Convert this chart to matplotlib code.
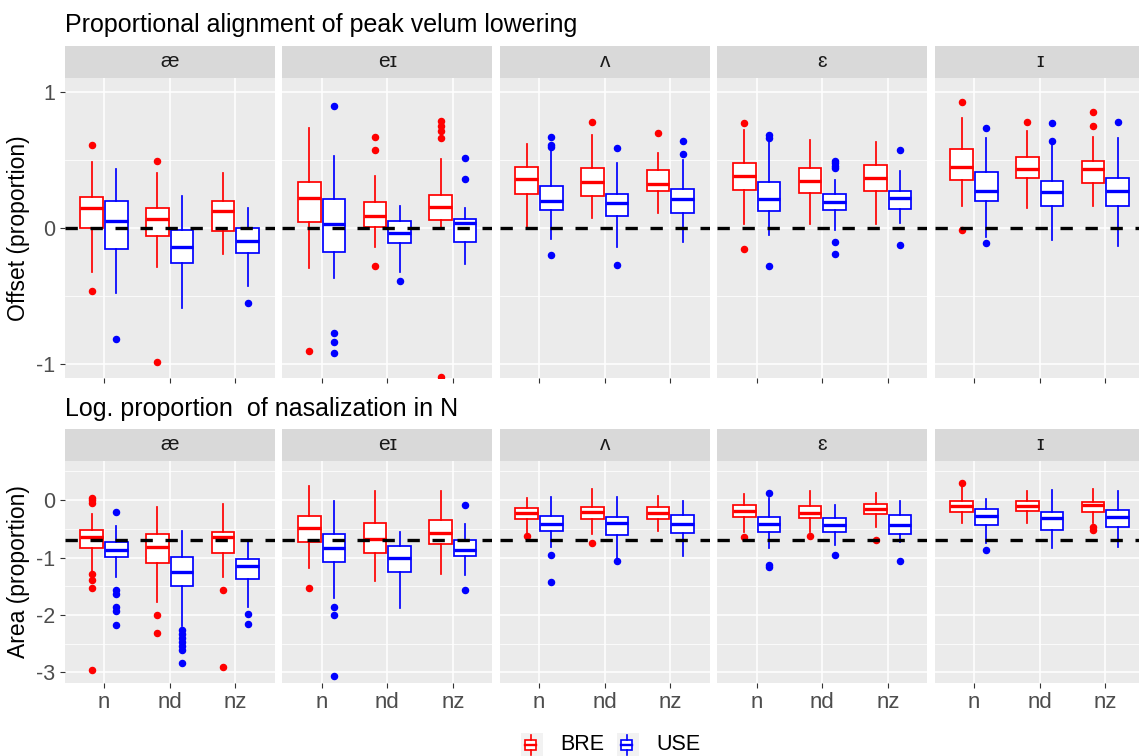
import numpy as np
import matplotlib
matplotlib.use("Agg")
import matplotlib.pyplot as plt
from matplotlib.patches import Rectangle

plt.rcParams['font.family'] = ['Liberation Sans', 'DejaVu Sans']

vowels = ["æ", "eɪ", "ʌ", "ɛ", "ɪ"]
contexts = ["n", "nd", "nz"]
varieties = ["BRE", "USE"]
colors = ["#FF0000", "#0000FF"]

# box stats per vowel -> per context: (whisker low, q1, median, q3, whisker high)
offset_bre = [
    [(-0.324, 0.0, 0.152, 0.233, 0.49), (-0.287, -0.056, 0.069, 0.147, 0.404), (-0.189, -0.017, 0.125, 0.199, 0.404)],
    [(-0.294, 0.049, 0.221, 0.341, 0.738), (-0.14, 0.01, 0.093, 0.191, 0.382), (0.0, 0.064, 0.154, 0.245, 0.507)],
    [(0.007, 0.255, 0.365, 0.449, 0.618), (0.074, 0.24, 0.338, 0.441, 0.689), (0.115, 0.272, 0.326, 0.431, 0.551)],
    [(0.034, 0.279, 0.387, 0.478, 0.721), (0.029, 0.262, 0.346, 0.441, 0.65), (0.034, 0.275, 0.37, 0.463, 0.637)],
    [(0.162, 0.353, 0.453, 0.583, 0.811), (0.147, 0.37, 0.439, 0.527, 0.718), (0.164, 0.336, 0.434, 0.495, 0.672)],
]
offset_bre_out = [
    [[0.61, -0.458], [0.498, -0.98], []],
    [[-0.90], [0.669, 0.574, -0.277], [0.792, 0.755, 0.718, 0.662, -1.096]],
    [[], [0.782], [0.701]],
    [[0.777, -0.152], [], []],
    [[0.926, -0.01], [0.782], [0.853, 0.75]],
]
offset_use = [
    [(-0.473, -0.152, 0.051, 0.199, 0.434), (-0.586, -0.252, -0.135, -0.015, 0.238), (-0.426, -0.181, -0.093, 0.0, 0.147)],
    [(-0.365, -0.174, 0.029, 0.216, 0.532), (-0.324, -0.105, -0.037, 0.056, 0.164), (-0.262, -0.10, 0.037, 0.071, 0.147)],
    [(-0.081, 0.132, 0.201, 0.314, 0.583), (-0.14, 0.088, 0.189, 0.25, 0.478), (-0.098, 0.113, 0.213, 0.287, 0.505)],
    [(-0.051, 0.13, 0.213, 0.341, 0.654), (-0.01, 0.132, 0.191, 0.25, 0.353), (0.042, 0.145, 0.221, 0.272, 0.424)],
    [(-0.061, 0.201, 0.277, 0.414, 0.664), (-0.086, 0.162, 0.265, 0.348, 0.615), (-0.127, 0.167, 0.272, 0.37, 0.662)],
]
offset_use_out = [
    [[-0.814], [], [-0.547]],
    [[0.902, -0.772, -0.833, -0.919], [-0.39], [0.515, 0.36]],
    [[0.674, 0.615, 0.596, -0.194], [0.591, -0.272], [0.64, 0.547]],
    [[0.686, 0.664, -0.275], [0.498, 0.478, 0.458, 0.441, -0.098, -0.189], [0.576, -0.12]],
    [[0.738, -0.11], [0.772, 0.645], [0.784]],
]

area_bre = [
    [(-1.265, -0.83, -0.644, -0.522, -0.25), (-1.776, -1.097, -0.824, -0.586, -0.116), (-1.335, -0.929, -0.644, -0.551, -0.075)],
    [(-1.19, -0.731, -0.488, -0.279, 0.25), (-1.405, -0.929, -0.673, -0.406, 0.157), (-1.294, -0.766, -0.58, -0.354, 0.157)],
    [(-0.569, -0.331, -0.226, -0.145, 0.029), (-0.598, -0.337, -0.215, -0.116, 0.186), (-0.534, -0.337, -0.221, -0.122, 0.07)],
    [(-0.551, -0.302, -0.192, -0.087, 0.104), (-0.551, -0.313, -0.221, -0.099, 0.163), (-0.464, -0.244, -0.151, -0.064, 0.128)],
    [(-0.406, -0.215, -0.11, -0.017, 0.232), (-0.395, -0.197, -0.104, -0.012, 0.163), (-0.406, -0.203, -0.081, -0.035, 0.197)],
]
area_bre_out = [
    [[0.04, 0.0, -0.058, -1.283, -1.393, -1.538, -2.966], [-2.002, -2.31], [-1.567, -2.908]],
    [[-1.526], [], []],
    [[-0.621], [-0.743], []],
    [[-0.638], [-0.633], [-0.696]],
    [[0.296], [], [-0.464, -0.522]],
]
area_use = [
    [(-1.346, -0.987, -0.876, -0.725, -0.453), (-2.194, -1.503, -1.259, -0.987, -0.534), (-1.869, -1.37, -1.143, -1.021, -0.737)],
    [(-1.712, -1.085, -0.842, -0.586, -0.017), (-1.88, -1.248, -1.004, -0.795, -0.563), (-1.312, -0.969, -0.871, -0.696, -0.418)],
    [(-0.813, -0.546, -0.424, -0.279, 0.046), (-1.0, -0.604, -0.406, -0.302, 0.058), (-0.969, -0.58, -0.418, -0.261, -0.017)],
    [(-0.836, -0.557, -0.418, -0.302, 0.029), (-0.783, -0.563, -0.435, -0.313, -0.081), (-0.737, -0.592, -0.441, -0.267, -0.017)],
    [(-0.754, -0.435, -0.284, -0.157, 0.023), (-0.842, -0.517, -0.319, -0.215, 0.174), (-0.824, -0.464, -0.302, -0.174, 0.163)],
]
area_use_out = [
    [[-0.209, -1.567, -1.637, -1.869, -1.933, -2.182], [-2.263, -2.339, -2.409, -2.478, -2.548, -2.618, -2.844], [-1.991, -2.159]],
    [[-1.869, -2.002, -3.059], [], [-0.087, -1.561]],
    [[-0.952, -1.422], [-1.056], []],
    [[0.122, -1.126, -1.172], [-0.952], [-1.068]],
    [[-0.865], [], []],
]

ref_offset = 0.0
ref_area = np.log(0.5)

W, H = 1139, 756
fig = plt.figure(figsize=(W / 100, H / 100), dpi=100)


def px_axes(x0, y0, x1, y1):
    return fig.add_axes([x0 / W, 1 - y1 / H, (x1 - x0) / W, (y1 - y0) / H])


def draw_row(boxes, outs, ref, ylim, yticks, yminor, strip_top, top, bottom, show_x):
    for v, vowel in enumerate(vowels):
        x0 = 64.7 + v * 217.5
        ax = px_axes(x0, top, x0 + 210, bottom)
        ax.set_facecolor("#EBEBEB")
        for s in ax.spines.values():
            s.set_visible(False)

        for k, (stats, fl) in enumerate(zip(boxes, outs)):
            bxp_stats = []
            for c in range(3):
                lo, q1, med, q3, hi = stats[v][c]
                bxp_stats.append(dict(whislo=lo, q1=q1, med=med, q3=q3, whishi=hi,
                                      fliers=fl[v][c]))
            pos = [c + 1 + (k - 0.5) * 0.375 for c in range(3)]
            col = colors[k]
            ax.bxp(bxp_stats, positions=pos, widths=0.345, showcaps=False,
                   patch_artist=True, manage_ticks=False,
                   boxprops=dict(facecolor="white", edgecolor=col, lw=1.25),
                   medianprops=dict(color=col, lw=2.4, solid_capstyle="butt"),
                   whiskerprops=dict(color=col, lw=1.25),
                   flierprops=dict(marker="o", markerfacecolor=col,
                                   markeredgecolor=col, markersize=4.4, lw=0))
        ax.axhline(ref, color="black", lw=2.4, dashes=(3.7, 3.8), zorder=5)

        ax.set_xlim(0.4, 3.6)
        ax.set_ylim(*ylim)
        ax.set_xticks(range(1, 4))
        ax.set_yticks(yticks)
        ax.set_yticks(yminor, minor=True)
        ax.grid(True, which="major", color="white", lw=1.1)
        ax.grid(True, which="minor", axis="y", color="white", lw=0.55)
        ax.set_axisbelow(True)
        ax.tick_params(which="major", length=3.5, width=0.8, color="#333333",
                       labelcolor="#4D4D4D", labelsize=15.5)
        ax.tick_params(which="minor", length=0)
        ax.tick_params(axis="x", labelsize=16, pad=3)
        if show_x:
            ax.set_xticklabels(contexts)
        else:
            ax.set_xticklabels([])
        if v == 0:
            ax.set_yticklabels([f"{t:g}" for t in yticks])
        else:
            ax.tick_params(axis="y", left=False, labelleft=False)

        sx = px_axes(x0, strip_top, x0 + 210, top)
        sx.set_facecolor("#D9D9D9")
        sx.set_xticks([])
        sx.set_yticks([])
        for s in sx.spines.values():
            s.set_visible(False)
        sx.text(0.5, 0.5, vowel, ha="center", va="center", fontsize=15,
                color="#1A1A1A", transform=sx.transAxes)


draw_row([offset_bre, offset_use], [offset_bre_out, offset_use_out], ref_offset,
         (-1.10, 1.107), [-1, 0, 1], [-0.5, 0.5], 45.7, 77.7, 378, False)
draw_row([area_bre, area_use], [area_bre_out, area_use_out], ref_area,
         (-3.19, 0.68), [-3, -2, -1, 0], [-2.5, -1.5, -0.5, 0.5], 429, 461, 683.3, True)

fig.text(65 / W, 1 - 32 / H, "Proportional alignment of peak velum lowering",
         fontsize=18, va="baseline", ha="left")
fig.text(65 / W, 1 - 416 / H, "Log. proportion  of nasalization in N",
         fontsize=18, va="baseline", ha="left")
fig.text(19 / W, 1 - 228 / H, "Offset (proportion)", rotation=90, fontsize=16.5,
         ha="center", va="center")
fig.text(19 / W, 1 - 572 / H, "Area (proportion)", rotation=90, fontsize=16.5,
         ha="center", va="center")

# legend
for k, lab in enumerate(varieties):
    kx = 521 + k * 96
    key = px_axes(kx, 733, kx + 22, 757)
    key.set_xlim(0, 1)
    key.set_ylim(0, 1)
    key.set_facecolor("#F2F2F2")
    key.set_xticks([])
    key.set_yticks([])
    for s in key.spines.values():
        s.set_visible(False)
    key.add_patch(Rectangle((0.2, 0.28), 0.5, 0.44, facecolor="white",
                            edgecolor=colors[k], lw=1.2))
    key.plot([0.2, 0.7], [0.5, 0.5], color=colors[k], lw=1.7)
    key.plot([0.45, 0.45], [0.08, 0.28], color=colors[k], lw=1.2)
    key.plot([0.45, 0.45], [0.72, 0.92], color=colors[k], lw=1.2)
    fig.text((kx + 39) / W, 1 - 745 / H, lab, fontsize=15.5, va="center", ha="left")

fig.savefig("out.png", dpi=100)
